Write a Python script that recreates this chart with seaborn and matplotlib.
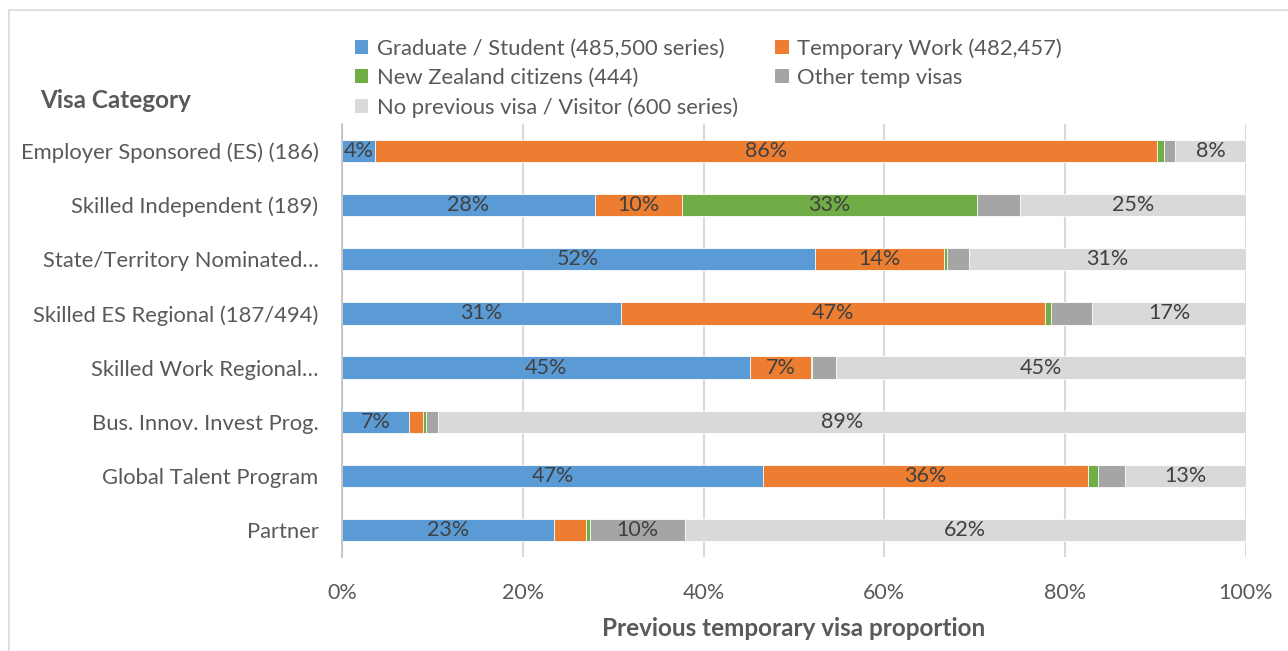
import numpy as np
import pandas as pd
import matplotlib.pyplot as plt
import seaborn as sns
from matplotlib.patches import Patch
from matplotlib.lines import Line2D

sns.set_style('white')
plt.rcParams['font.family'] = ['Lato', 'DejaVu Sans']

categories = ['Employer Sponsored (ES) (186)', 'Skilled Independent (189)',
              'State/Territory Nominated…', 'Skilled ES Regional (187/494)',
              'Skilled Work Regional…', 'Bus. Innov. Invest Prog.',
              'Global Talent Program', 'Partner']

series_names = ['Graduate / Student (485,500 series)', 'Temporary Work (482,457)',
                'New Zealand citizens (444)', 'Other temp visas',
                'No previous visa / Visitor (600 series)']

graduate = [3.7, 28.0, 52.3, 30.9, 45.1, 7.4, 46.6, 23.4]
temp_work = [86.4, 9.6, 14.3, 46.9, 6.8, 1.6, 35.9, 3.6]
nz_citizens = [0.8, 32.6, 0.3, 0.6, 0.1, 0.3, 1.1, 0.4]
other_temp = [1.3, 4.8, 2.5, 4.6, 2.6, 1.3, 3.0, 10.5]
no_previous = [7.8, 25.0, 30.6, 17.0, 45.4, 89.4, 13.4, 62.1]

colors = ['#5B9BD5', '#ED7D31', '#70AD47', '#A5A5A5', '#D9D9D9']
text_col = '#595959'

values = np.array([graduate, temp_work, nz_citizens, other_temp, no_previous])
cum = np.cumsum(values, axis=0)

fig = plt.figure(figsize=(12.88, 6.51), dpi=100)
ax = fig.add_axes([342 / 1288, 1 - 557 / 651, 904 / 1288, 433 / 651])

# stacked bars: draw cumulative totals from the longest down
for j in range(len(series_names) - 1, -1, -1):
    df = pd.DataFrame({'cat': categories, 'val': cum[j]})
    sns.barplot(data=df, x='val', y='cat', orient='h', color=colors[j],
                width=0.41, edgecolor='white', linewidth=0.6, ax=ax,
                saturation=1, zorder=2)

# data labels
for j in range(len(series_names)):
    for i, v in enumerate(values[j]):
        if v >= 6 or (j == 0 and v >= 3):
            ax.text(cum[j][i] - v / 2, i, f'{v:.0f}%', ha='center', va='center',
                    fontsize=15.5, color='#404040', zorder=3)

ax.set_xlim(0, 100)
ax.set_ylim(7.5, -0.5)
ax.set_xticks([0, 20, 40, 60, 80, 100])
ax.set_xticklabels(['0%', '20%', '40%', '60%', '80%', '100%'])
ax.grid(axis='x', color='#D9D9D9', linewidth=1.5, zorder=0)
ax.set_axisbelow(True)
for s in ['top', 'right', 'bottom']:
    ax.spines[s].set_visible(False)
ax.spines['left'].set_color('#BFBFBF')
ax.spines['left'].set_linewidth(1.2)
ax.set_yticks(np.arange(-0.5, 8, 1), minor=True)
ax.tick_params(axis='y', which='minor', length=9, color='#BFBFBF', width=1.2)
ax.tick_params(axis='y', which='major', length=0, pad=17, labelsize=15.8,
               labelcolor=text_col)
ax.tick_params(axis='x', length=0, pad=19, labelsize=15.5, labelcolor=text_col)
ax.set_ylabel('')
ax.set_xlabel('Previous temporary visa proportion', fontsize=17.5,
              fontweight='bold', color=text_col, labelpad=10)

fig.text(40 / 1288, 1 - 100 / 651, 'Visa Category', fontsize=17.5,
         fontweight='bold', color=text_col, va='center', ha='left')

# legend in Excel row order
handles = [Patch(facecolor=c, edgecolor='none') for c in colors]
order = [0, 2, 4, 1, 3]
leg = fig.legend([handles[k] for k in order], [series_names[k] for k in order],
                 ncol=2, loc='upper left', bbox_to_anchor=(355 / 1288, 1 - 38 / 651),
                 frameon=False, fontsize=15.8, handlelength=0.6, handleheight=0.6,
                 handletextpad=0.4, columnspacing=1.7, labelspacing=0.42,
                 borderaxespad=0, borderpad=0)
for t in leg.get_texts():
    t.set_color(text_col)

# chart border
fig.add_artist(Line2D([9 / 1288, 9 / 1288], [0, 1 - 10 / 651], color='#D9D9D9', lw=1.2))
fig.add_artist(Line2D([9 / 1288, 1], [1 - 10 / 651, 1 - 10 / 651], color='#D9D9D9', lw=1.2))

fig.savefig('out.png', dpi=100)
